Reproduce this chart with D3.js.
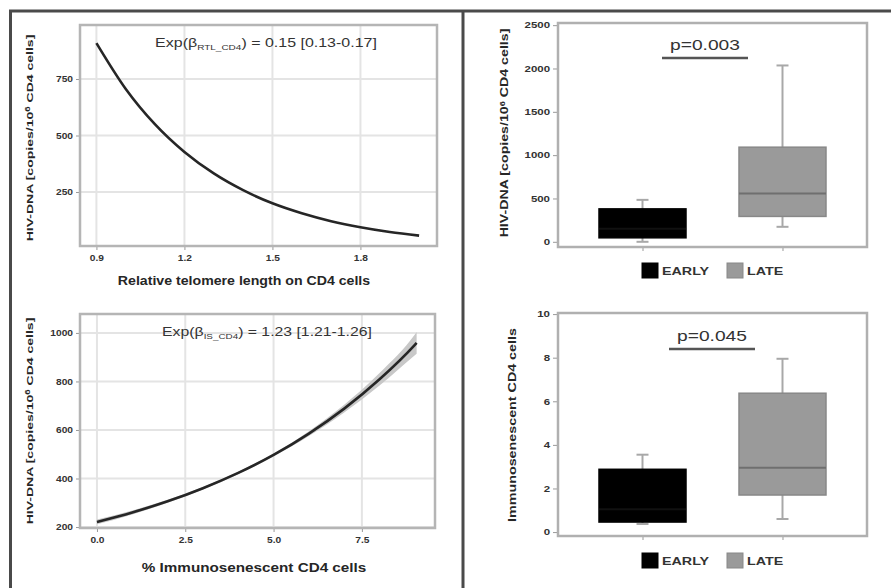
<!DOCTYPE html>
<html>
<head>
<meta charset="utf-8">
<script src="https://cdn.jsdelivr.net/npm/d3@7"></script>
<style>
  html, body { margin: 0; padding: 0; background: #fff; }
  svg { display: block; font-family: "Liberation Sans", Arial, sans-serif; }
</style>
</head>
<body>
<svg id="fig" width="891" height="588"></svg>
<script>
// ---- Data ----
// Fitted curve: HIV-DNA vs relative telomere length (RTL) on CD4 cells
const rtlX = [0.9, 1.0, 1.1, 1.2, 1.3, 1.4, 1.5, 1.6, 1.7, 1.8, 1.9, 2.0];
const rtlHiv = [909, 706, 549, 427, 332, 258, 200, 156, 121, 94, 73, 57];
const rtlTicksX = [0.9, 1.2, 1.5, 1.8];
const rtlTicksY = [250, 500, 750];

// Fitted curve: HIV-DNA vs % immunosenescent CD4 cells, with confidence band
const isX = [0, 1, 2, 3, 4, 5, 6, 7, 8, 9, 9.05];
const isHiv = [221, 260, 306, 360, 423, 497, 585, 688, 809, 951, 959];
const isLow = [211, 252, 300, 355, 418, 491, 575, 672, 783, 908, 914];
const isHigh = [231, 268, 312, 365, 428, 503, 595, 704, 835, 994, 1004];
const isTicksX = [0, 2.5, 5, 7.5];
const isTicksY = [200, 400, 600, 800, 1000];

// Box plots by group
const groups = ["EARLY", "LATE"];
const groupColors = ["#000000", "#9a9a9a"];
const hivMin = [0, 173];
const hivQ1 = [46, 293];
const hivMedian = [150, 558];
const hivQ3 = [380, 1092];
const hivMax = [484, 2035];
const hivTicks = [0, 500, 1000, 1500, 2000, 2500];
const hivP = "p=0.003";

const iscMin = [0.37, 0.6];
const iscQ1 = [0.46, 1.7];
const iscMedian = [1.05, 2.95];
const iscQ3 = [2.88, 6.37];
const iscMax = [3.55, 7.95];
const iscTicks = [0, 2, 4, 6, 8, 10];
const iscP = "p=0.045";

const svg = d3.select("#fig");

// Stretch a text element horizontally (in its own frame) to a target length.
function fit(text, target) {
  const w = text.node().getBBox().width;
  if (w > 0) text.attr("transform", `scale(${target / w},1)`);
  return text;
}
// Centered label inside a positioned/rotated group.
function label(parent, cx, cy, rot, size, bold) {
  return parent.append("g").attr("transform", `translate(${cx},${cy}) rotate(${rot})`)
    .append("text").attr("text-anchor", "middle")
    .attr("font-size", size).attr("font-weight", bold ? "bold" : "normal").attr("fill", "#262626");
}
// Widen tick labels around their anchor point.
function widenTicks(axisG, sx) {
  axisG.selectAll(".tick text").each(function () {
    const t = d3.select(this);
    const xv = +t.attr("x") || 0;
    t.attr("transform", `translate(${xv},0) scale(${sx},1) translate(${-xv},0)`);
  });
}

// ---- Frame around the figure panels ----
const frame = svg.append("g").attr("stroke", "#4a4a4a").attr("stroke-width", 3);
frame.append("line").attr("x1", 9).attr("x2", 891).attr("y1", 11).attr("y2", 11);
frame.append("line").attr("x1", 10.5).attr("x2", 10.5).attr("y1", 10).attr("y2", 588);
frame.append("line").attr("x1", 463).attr("x2", 463).attr("y1", 10).attr("y2", 588);

// ---- Curve panels ----
function curvePanel(opt) {
  const g = svg.append("g");
  const x = d3.scaleLinear().domain(opt.xDomain).range([opt.left, opt.right]);
  const y = d3.scaleLinear().domain(opt.yDomain).range([opt.bottom, opt.top]);

  // grid
  g.append("g").selectAll("line").data(opt.ticksX).join("line")
    .attr("x1", d => x(d)).attr("x2", d => x(d))
    .attr("y1", opt.top).attr("y2", opt.bottom)
    .attr("stroke", "#e4e4e4").attr("stroke-width", 2);
  g.append("g").selectAll("line").data(opt.ticksY).join("line")
    .attr("x1", opt.left).attr("x2", opt.right)
    .attr("y1", d => y(d)).attr("y2", d => y(d))
    .attr("stroke", "#e4e4e4").attr("stroke-width", 2);

  // axes
  const ax = g.append("g").attr("transform", `translate(0,${opt.bottom})`)
    .call(d3.axisBottom(x).tickValues(opt.ticksX).tickSize(4).tickPadding(5).tickFormat(d3.format(".1f")));
  const ay = g.append("g").attr("transform", `translate(${opt.left},0)`)
    .call(d3.axisLeft(y).tickValues(opt.ticksY).tickSize(4).tickPadding(3).tickFormat(d3.format("d")));
  [ax, ay].forEach(a => {
    a.select(".domain").remove();
    a.selectAll(".tick line").attr("stroke", "#999");
    a.selectAll(".tick text").attr("fill", "#333").attr("font-size", 8.5).attr("font-weight", "bold");
    widenTicks(a, 1.2);
  });

  // confidence band
  if (opt.low) {
    const area = d3.area().x((d, i) => x(opt.xs[i])).y0((d, i) => y(opt.low[i])).y1((d, i) => y(opt.high[i]))
      .curve(d3.curveMonotoneX);
    g.append("path").datum(opt.xs).attr("d", area).attr("fill", "#c8c8c8");
  }
  // fitted curve
  const line = d3.line().x((d, i) => x(opt.xs[i])).y(d => y(d)).curve(d3.curveMonotoneX);
  g.append("path").datum(opt.ys).attr("d", line)
    .attr("fill", "none").attr("stroke", "#262626").attr("stroke-width", 2.6);

  // plot border
  g.append("rect").attr("x", opt.left).attr("y", opt.top)
    .attr("width", opt.right - opt.left).attr("height", opt.bottom - opt.top)
    .attr("fill", "none").attr("stroke", "#b5b5b5").attr("stroke-width", 2.5);

  // annotation with subscript
  const t = label(g, opt.annX, opt.top + 22, 0, 12, false).attr("fill", "#333");
  t.append("tspan").text("Exp(β");
  t.append("tspan").attr("font-size", 7.5).attr("dy", 3).text(opt.sub);
  t.append("tspan").attr("dy", -3).text(") = " + opt.stat);
  fit(t, opt.annW);

  // axis titles
  fit(label(g, opt.xTitleX, opt.xTitleY, 0, 12, true).text(opt.xTitle), opt.xTitleW);
  const ty = label(g, 33, opt.yTitleY, -90, 9.5, true);
  ty.append("tspan").text("HIV-DNA [copies/10");
  ty.append("tspan").attr("font-size", 6.5).attr("dy", -3).text("6");
  ty.append("tspan").attr("dy", 3).text(" CD4 cells]");
  fit(ty, 207);
}

curvePanel({
  left: 80, right: 437, top: 25, bottom: 246,
  xDomain: [0.844, 2.061], yDomain: [11, 989],
  ticksX: rtlTicksX, ticksY: rtlTicksY,
  xs: rtlX, ys: rtlHiv,
  sub: "RTL_CD4", stat: "0.15 [0.13-0.17]", annX: 266, annW: 222,
  xTitle: "Relative telomere length on CD4 cells", xTitleX: 244, xTitleY: 285, xTitleW: 253,
  yTitleY: 138
});

curvePanel({
  left: 80, right: 435, top: 314, bottom: 528,
  xDomain: [-0.48, 9.57], yDomain: [196, 1078],
  ticksX: isTicksX, ticksY: isTicksY,
  xs: isX, ys: isHiv, low: isLow, high: isHigh,
  sub: "IS_CD4", stat: "1.23 [1.21-1.26]", annX: 267, annW: 210,
  xTitle: "% Immunosenescent CD4 cells", xTitleX: 254, xTitleY: 572, xTitleW: 225,
  yTitleY: 421
});

// ---- Box plot panels ----
function boxPanel(opt) {
  const g = svg.append("g");
  const x = d3.scalePoint().domain(groups).range([opt.left, opt.right]).padding(0.6036);
  const y = d3.scaleLinear().domain(opt.yDomain).range([opt.bottom, opt.top]);
  const boxW = 87;

  const ay = g.append("g").attr("transform", `translate(${opt.left},0)`)
    .call(d3.axisLeft(y).tickValues(opt.ticks).tickSize(5).tickPadding(3).tickFormat(d3.format("d")));
  ay.select(".domain").remove();
  ay.selectAll(".tick line").attr("stroke", "#999");
  ay.selectAll(".tick text").attr("fill", "#333").attr("font-size", 8.5).attr("font-weight", "bold");
  widenTicks(ay, 1.35);

  const ax = g.append("g").attr("transform", `translate(0,${opt.bottom})`)
    .call(d3.axisBottom(x).tickSize(4).tickFormat(""));
  ax.select(".domain").remove();
  ax.selectAll(".tick line").attr("stroke", "#999");

  const items = groups.map((k, i) => ({
    k, i, min: opt.min[i], q1: opt.q1[i], med: opt.med[i], q3: opt.q3[i], max: opt.max[i]
  }));
  const b = g.append("g").selectAll("g").data(items).join("g");
  // whiskers
  b.append("line").attr("x1", d => x(d.k)).attr("x2", d => x(d.k))
    .attr("y1", d => y(d.max)).attr("y2", d => y(d.min))
    .attr("stroke", "#a8a8a8").attr("stroke-width", 2);
  b.append("line").attr("x1", d => x(d.k) - 6).attr("x2", d => x(d.k) + 6)
    .attr("y1", d => y(d.max)).attr("y2", d => y(d.max))
    .attr("stroke", "#a8a8a8").attr("stroke-width", 2);
  b.append("line").attr("x1", d => x(d.k) - 6).attr("x2", d => x(d.k) + 6)
    .attr("y1", d => y(d.min)).attr("y2", d => y(d.min))
    .attr("stroke", "#a8a8a8").attr("stroke-width", 2);
  // boxes
  b.append("rect").attr("x", d => x(d.k) - boxW / 2).attr("width", boxW)
    .attr("y", d => y(d.q3)).attr("height", d => y(d.q1) - y(d.q3))
    .attr("fill", d => groupColors[d.i])
    .attr("stroke", d => d.i === 0 ? "#000" : "#888").attr("stroke-width", 1.5);
  // medians
  b.append("line").attr("x1", d => x(d.k) - boxW / 2).attr("x2", d => x(d.k) + boxW / 2)
    .attr("y1", d => y(d.med)).attr("y2", d => y(d.med))
    .attr("stroke", d => d.i === 0 ? "#111" : "#6f6f6f").attr("stroke-width", 2);

  // plot border
  g.append("rect").attr("x", opt.left).attr("y", opt.top)
    .attr("width", opt.right - opt.left).attr("height", opt.bottom - opt.top)
    .attr("fill", "none").attr("stroke", "#b0b0b0").attr("stroke-width", 2.5);

  // significance label
  fit(label(g, opt.pX, opt.pY, 0, 15.5, false).attr("fill", "#333").text(opt.p), 70);
  g.append("line").attr("x1", opt.pX - 43).attr("x2", opt.pX + 43)
    .attr("y1", opt.pY + 8).attr("y2", opt.pY + 8)
    .attr("stroke", "#555").attr("stroke-width", 2.5);

  // legend
  const lg = g.append("g").attr("transform", `translate(642,${opt.legendY})`);
  const le = lg.selectAll("g").data(groups).join("g")
    .attr("transform", (d, i) => `translate(${i * 85},0)`);
  le.append("rect").attr("width", 16).attr("height", 15).attr("y", -8)
    .attr("fill", (d, i) => groupColors[i]).attr("stroke", (d, i) => i === 0 ? "#000" : "#888");
  le.append("g").attr("transform", "translate(20,4)").append("text")
    .attr("font-size", 11).attr("font-weight", "bold").attr("fill", "#333").text(d => d)
    .each(function () { fit(d3.select(this), this.getBBox().width * 1.3); });

  // y title
  const ty = label(g, opt.titleX, opt.titleY, -90, opt.titleSize, true);
  opt.title(ty);
  fit(ty, opt.titleW);
}

boxPanel({
  left: 558, right: 867, top: 23, bottom: 247,
  yDomain: [-60, 2525], ticks: hivTicks,
  min: hivMin, q1: hivQ1, med: hivMedian, q3: hivQ3, max: hivMax,
  p: hivP, pX: 705, pY: 50, legendY: 271,
  titleX: 508, titleY: 133, titleSize: 10, titleW: 209,
  title: t => {
    t.append("tspan").text("HIV-DNA [copies/10");
    t.append("tspan").attr("font-size", 6.5).attr("dy", -3).text("6");
    t.append("tspan").attr("dy", 3).text(" CD4 cells]");
  }
});

boxPanel({
  left: 558, right: 867, top: 313, bottom: 536,
  yDomain: [-0.18, 10.05], ticks: iscTicks,
  min: iscMin, q1: iscQ1, med: iscMedian, q3: iscQ3, max: iscMax,
  p: iscP, pX: 712, pY: 341, legendY: 561,
  titleX: 516, titleY: 425, titleSize: 11.5, titleW: 194,
  title: t => t.text("Immunosenescent CD4 cells")
});
</script>
</body>
</html>
